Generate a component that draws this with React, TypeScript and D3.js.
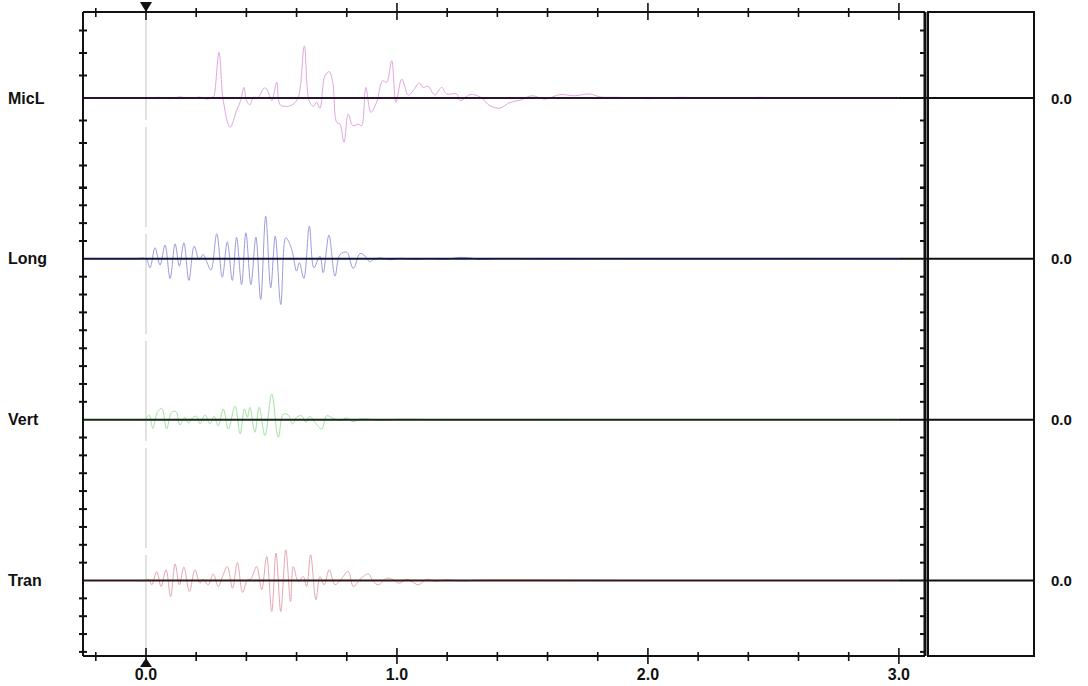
import React from "react";
import * as d3 from "d3";

type Pt = [number, number];

const channels = ["MicL", "Long", "Vert", "Tran"];
const offsetLabels = ["0.0", "0.0", "0.0", "0.0"];
const xMajorLabels = ["0.0", "1.0", "2.0", "3.0"];
const xMajorValues = [0, 1, 2, 3];
const xMinorValues = [-0.2, 0, 0.2, 0.4, 0.6, 0.8, 1.0, 1.2, 1.4, 1.6, 1.8, 2.0, 2.2, 2.4, 2.6, 2.8, 3.0];
const ampTicks = [-4, -3, -2, -1, 1, 2, 3, 4];

const micL: Pt[] = [
  [-0.25, 0], [-0.15, 0.02], [-0.05, -0.02], [0, 0], [0.056, 0.03], [0.096, -0.03], [0.135, 0.05],
  [0.175, -0.02], [0.215, 0.04], [0.243, -0.05], [0.267, 0.05], [0.271, 0.09], [0.291, 2.03],
  [0.308, -0.12], [0.335, -1.3], [0.361, -0.56], [0.377, -0.12], [0.39, 0.47], [0.401, -0.12],
  [0.414, -0.3], [0.428, 0.03], [0.447, 0.03], [0.47, 0.44], [0.481, 0.4], [0.501, -0.12],
  [0.521, 0.7], [0.534, -0.3], [0.561, -0.37], [0.587, -0.27], [0.607, 0.03], [0.631, 2.32],
  [0.65, -0.12], [0.667, -0.37], [0.68, -0.18], [0.693, -0.46], [0.713, 0.99], [0.73, 1.17],
  [0.744, 0.7], [0.76, -1.08], [0.773, -1.16], [0.789, -1.97], [0.806, -0.71], [0.824, -1.23],
  [0.846, -1.16], [0.859, -1.23], [0.876, 0.47], [0.896, -0.64], [0.919, -0.19], [0.943, 0.77],
  [0.959, 0.7], [0.979, 1.66], [0.996, -0.19], [1.019, 0.84], [1.045, 0.13], [1.065, 0.33],
  [1.089, 0.67], [1.104, 0.47], [1.124, 0.52], [1.151, 0.13], [1.178, 0.47], [1.198, 0.18],
  [1.238, 0.18], [1.251, -0.12], [1.291, 0.15], [1.331, 0.05], [1.371, -0.35], [1.41, -0.45],
  [1.45, -0.2], [1.49, -0.1], [1.538, 0.1], [1.59, -0.05], [1.649, 0.15], [1.709, 0.1],
  [1.769, 0.18], [1.809, 0.05], [1.888, 0.03], [2.008, -0.03], [2.127, 0.03], [2.287, -0.02],
  [2.446, 0.03], [2.606, -0.02], [2.805, 0.02], [3.0, 0],
];

const long: Pt[] = [
  [-0.25, 0], [-0.15, 0], [-0.05, 0], [0, 0], [0.016, -0.5], [0.036, 0.62], [0.056, -0.35], [0.076, 0.77], [0.096, -1.1],
  [0.116, 0.84], [0.133, -0.41], [0.151, 0.9], [0.171, -1.21], [0.192, 0.71], [0.212, -0.04],
  [0.228, 0.24], [0.242, -0.17], [0.259, -0.63], [0.282, 1.4], [0.304, -1.03], [0.324, 0.95],
  [0.344, -1.21], [0.361, 1.21], [0.381, -1.44], [0.398, 1.46], [0.418, -1.44], [0.438, 1.21],
  [0.457, -2.28], [0.477, 2.39], [0.497, -1.62], [0.515, 1.27], [0.537, -2.56], [0.557, 1.18],
  [0.574, 0.8], [0.584, 0.34], [0.6, -0.69], [0.611, -0.22], [0.629, -1.1], [0.651, 1.83],
  [0.669, -0.5], [0.693, 0.15], [0.706, -0.78], [0.729, 1.33], [0.753, -0.97], [0.773, 0.24],
  [0.8, 0.37], [0.826, -0.54], [0.853, 0.3], [0.873, 0.15], [0.892, -0.17], [0.906, -0.04],
  [0.932, 0.05], [0.972, -0.05], [1.012, 0.03], [1.072, -0.03], [1.131, 0.02], [1.191, -0.03],
  [1.251, 0.08], [1.291, 0.05], [1.331, -0.03], [1.41, 0.02], [1.61, -0.01], [1.809, 0.01],
  [2.207, 0], [2.606, 0.01], [3.0, 0],
];

const vert: Pt[] = [
  [-0.25, 0], [-0.15, 0], [-0.05, 0], [0, 0], [0.003, 0.13], [0.013, 0.26], [0.027, -0.49], [0.045, 0.41], [0.063, 0.63],
  [0.082, -0.52], [0.102, 0.41], [0.12, 0.45], [0.135, -0.3], [0.155, 0.13], [0.169, -0.19],
  [0.188, 0.13], [0.202, 0.19], [0.215, -0.24], [0.235, 0.26], [0.255, -0.24], [0.271, 0.19],
  [0.288, -0.34], [0.308, 0.6], [0.328, -0.52], [0.355, 0.75], [0.375, -0.8], [0.392, 0.6],
  [0.404, 0.13], [0.414, 0.69], [0.434, -0.71], [0.451, 0.69], [0.474, -0.9], [0.501, 1.44],
  [0.527, -0.99], [0.547, 0.32], [0.567, 0.26], [0.584, -0.24], [0.6, 0.13], [0.62, 0.22],
  [0.637, -0.15], [0.653, 0.19], [0.673, -0.15], [0.7, -0.52], [0.72, 0.22], [0.745, 0.08],
  [0.773, -0.05], [0.8, 0.1], [0.825, -0.11], [0.853, 0.04], [0.932, -0.03], [1.012, 0.02],
  [1.211, -0.01], [2.0, 0], [3.0, 0],
];

const tran: Pt[] = [
  [-0.25, 0], [-0.15, 0], [-0.05, 0], [0, 0], [0.011, 0.07], [0.023, -0.24], [0.043, 0.5], [0.06, -0.34], [0.08, 0.6],
  [0.098, -0.9], [0.116, 0.93], [0.133, -0.24], [0.151, 0.75], [0.173, -0.62], [0.195, 0.6],
  [0.215, -0.15], [0.228, 0.07], [0.248, -0.24], [0.268, 0.37], [0.288, -0.34], [0.303, 0.15],
  [0.324, 0.78], [0.345, -0.43], [0.364, 1.01], [0.385, -0.67], [0.404, 0.04], [0.417, 0.07],
  [0.441, 0.78], [0.461, -0.52], [0.481, 1.34], [0.501, -1.74], [0.518, 1.53], [0.537, -1.74],
  [0.557, 1.72], [0.576, -1.18], [0.587, 0.78], [0.607, -0.06], [0.627, 0.22], [0.64, -0.34],
  [0.656, 1.44], [0.677, -1.08], [0.693, 0.22], [0.71, -0.24], [0.73, 0.6], [0.753, -0.24],
  [0.773, 0], [0.806, 0.5], [0.826, -0.34], [0.853, 0.07], [0.886, 0.37], [0.906, -0.06],
  [0.926, -0.24], [0.959, 0.13], [0.985, 0.04], [1.009, -0.15], [1.039, 0.07], [1.06, -0.06],
  [1.085, -0.24], [1.118, 0.07], [1.151, -0.04], [1.191, 0.03], [1.251, -0.02], [1.331, 0.02],
  [2.0, 0], [3.0, 0],
];

const traces: Pt[][] = [micL, long, vert, tran];
const traceColors = ["#e0a6e0", "#9c9cdc", "#a2e2a2", "#e4a8b2"];
const baselineColors = ["#2a1530", "#141440", "#142a14", "#301818"];

export default function App() {
  const W = 1088;
  const H = 686;
  const left = 83;
  const right = 925;
  const top = 12;
  const bottom = 656;
  const panelLeft = 928;
  const panelRight = 1034;
  const font = "'Liberation Sans', Arial, Helvetica, sans-serif";

  const x = d3.scaleLinear().domain([-0.251, 3.104]).range([left, right]);
  const chY = d3.scalePoint<string>().domain(channels).range([98, 580.5]);
  const halfBand = [90, 71.4, 71.4, 71.4];
  const ampScales = channels.map((c, i) =>
    d3.scaleLinear().domain([-4, 4]).range([(chY(c) as number) + halfBand[i], (chY(c) as number) - halfBand[i]])
  );

  const tickYs: number[] = [];
  ampScales.forEach((s) => {
    ampTicks.forEach((t) => {
      const y = s(t);
      if (y > top + 2 && y < bottom - 2) tickYs.push(y);
    });
  });

  const x0 = x(0);

  return (
    <svg
      width={W}
      height={H}
      viewBox={`0 0 ${W} ${H}`}
      style={{ position: "absolute", left: 0, top: 0, background: "#fff" }}
    >
      <rect x={0} y={0} width={W} height={H} fill="#fff" />

      {/* dashed trigger line */}
      <line x1={x0} x2={x0} y1={20} y2={bottom} stroke="#c4c4c4" strokeWidth={1} strokeDasharray="100,7" />

      {/* traces */}
      {traces.map((tr, i) => {
        const line = d3
          .line<Pt>()
          .x((d) => x(d[0]))
          .y((d) => ampScales[i](d[1]))
          .curve(d3.curveCatmullRom.alpha(0.5));
        return (
          <path key={"t" + i} d={line(tr) || ""} fill="none" stroke={traceColors[i]} strokeWidth={1} />
        );
      })}

      {/* baselines */}
      {channels.map((c, i) => (
        <g key={"b" + c}>
          <line x1={left} x2={x(3.0)} y1={chY(c)} y2={chY(c)} stroke={baselineColors[i]} strokeWidth={2} />
          <line x1={x(3.0)} x2={panelRight} y1={chY(c)} y2={chY(c)} stroke="#111" strokeWidth={2} />
        </g>
      ))}

      {/* frame */}
      <line x1={left} x2={right} y1={top} y2={top} stroke="#111" strokeWidth={2} />
      <line x1={left} x2={right} y1={bottom} y2={bottom} stroke="#111" strokeWidth={2} />
      <line x1={left} x2={left} y1={top} y2={bottom} stroke="#111" strokeWidth={2} />
      <line x1={right} x2={right} y1={top} y2={bottom} stroke="#111" strokeWidth={3} />
      <rect x={panelLeft} y={top} width={panelRight - panelLeft} height={bottom - top} fill="none" stroke="#111" strokeWidth={2} />

      {/* left and right ticks */}
      {tickYs.map((y, i) => (
        <g key={"yt" + i}>
          <line x1={left - 4} x2={left + 4} y1={y} y2={y} stroke="#111" strokeWidth={2} />
          <line x1={right - 5} x2={right} y1={y} y2={y} stroke="#111" strokeWidth={2} />
        </g>
      ))}

      {/* x ticks top & bottom */}
      {xMinorValues.map((v, i) => {
        const major = xMajorValues.some((m) => Math.abs(m - v) < 1e-6);
        const xx = x(v);
        return (
          <g key={"xt" + i}>
            <line x1={xx} x2={xx} y1={major ? 3 : 8} y2={major ? 20 : 17} stroke="#111" strokeWidth={1.6} />
            <line x1={xx} x2={xx} y1={major ? 648 : 652} y2={major ? 664 : 661} stroke="#111" strokeWidth={1.6} />
          </g>
        );
      })}

      {/* x labels */}
      {xMajorValues.map((v, i) => (
        <text
          key={"xl" + i}
          x={x(v)}
          y={680}
          textAnchor="middle"
          fontFamily={font}
          fontWeight="bold"
          fontSize={16}
          fill="#111"
        >
          {xMajorLabels[i]}
        </text>
      ))}

      {/* trigger markers */}
      <path d={`M${x0 - 6},2 L${x0 + 6},2 L${x0},12 Z`} fill="#111" />
      <path d={`M${x0},658 L${x0 - 6},667 L${x0 + 6},667 Z`} fill="#111" />

      {/* channel labels */}
      {channels.map((c, i) => (
        <g key={"l" + c}>
          <text x={8} y={(chY(c) as number) + 5.5} fontFamily={font} fontWeight="bold" fontSize={16} fill="#111">
            {c}
          </text>
          <text x={1051} y={(chY(c) as number) + 5.5} fontFamily={font} fontWeight="bold" fontSize={15} fill="#111">
            {offsetLabels[i]}
          </text>
        </g>
      ))}
    </svg>
  );
}
